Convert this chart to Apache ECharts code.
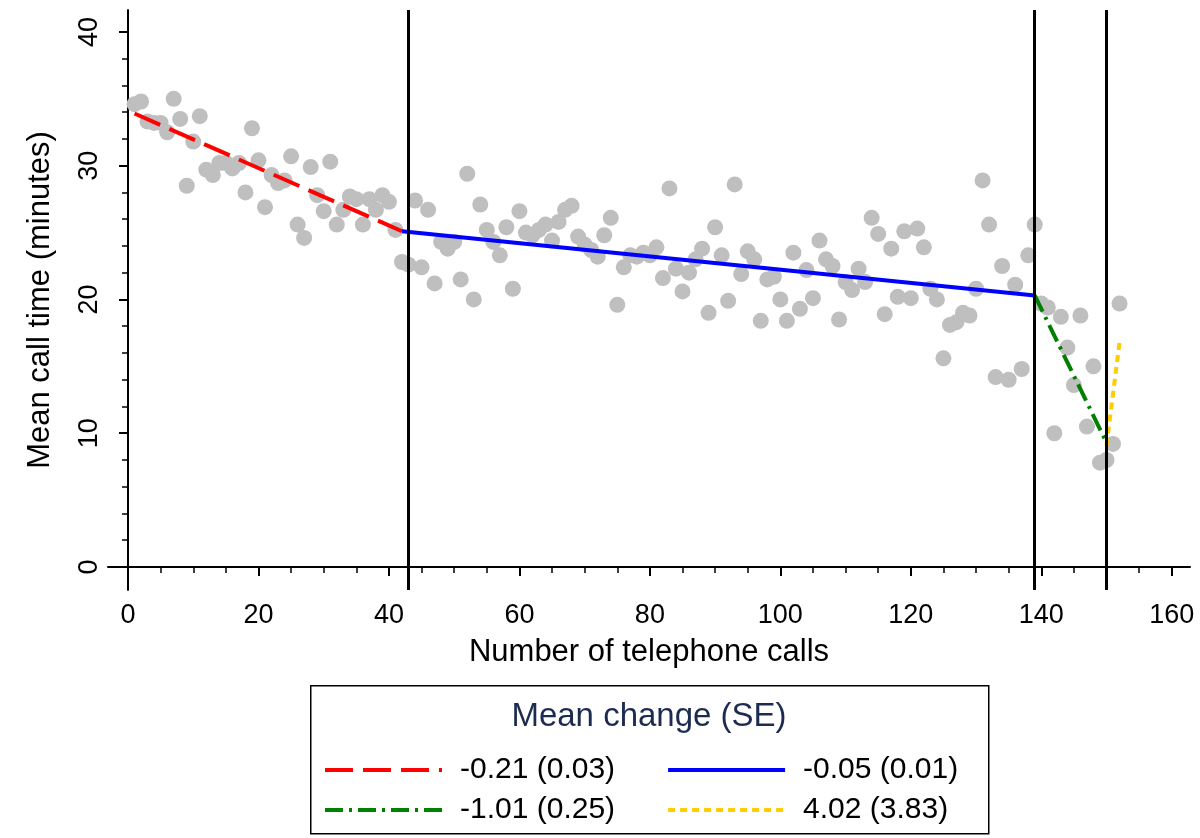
<!DOCTYPE html>
<html>
<head>
<meta charset="utf-8">
<script src="https://cdn.jsdelivr.net/npm/echarts@6/dist/echarts.min.js"></script>
<style>html,body{margin:0;padding:0;background:#fff}#c{width:1200px;height:838px}</style>
</head>
<body>
<div id="c"></div>
<script>
// Mean call time (minutes) for call number 1..152
var callTime = [
 34.6,34.8,33.3,33.2,33.2,32.5,35.0,33.5,28.5,31.8,
 33.7,29.7,29.3,30.2,30.2,29.8,30.2,28.0,32.8,30.4,
 26.9,29.3,28.7,28.9,30.7,25.6,24.6,29.9,27.8,26.6,
 30.3,25.6,26.7,27.7,27.5,25.6,27.5,26.7,27.8,27.3,
 25.2,22.8,22.6,27.4,22.4,26.7,21.2,24.3,23.8,24.3,
 21.5,29.4,20.0,27.1,25.2,24.3,23.3,25.4,20.8,26.6,
 25.0,24.8,25.2,25.6,24.4,25.8,26.7,27.0,24.7,24.1,
 23.7,23.2,24.8,26.1,19.6,22.4,23.3,23.2,23.5,23.3,
 23.9,21.6,28.3,22.3,20.6,22.0,23.0,23.8,19.0,25.4,
 23.3,19.9,28.6,21.9,23.6,23.0,18.4,21.5,21.7,20.0,
 18.4,23.5,19.3,22.2,20.1,24.4,23.0,22.5,18.5,21.3,
 20.7,22.3,21.3,26.1,24.9,18.9,23.8,20.2,25.1,20.1,
 25.3,23.9,20.8,20.0,15.6,18.1,18.3,19.0,18.8,20.8,
 28.9,25.6,14.2,22.5,14.0,21.1,14.8,23.3,25.6,19.7,
 19.4,10.0,18.7,16.4,13.6,18.8,10.5,15.0,7.8,8.0,
 9.2,19.7
];
// Fitted segments (call number, minutes)
var seg1X = [1, 42],    seg1Y = [33.9, 25.1];
var seg2X = [42, 139],  seg2Y = [25.1, 20.3];
var seg3X = [139, 150], seg3Y = [20.3, 9.3];
var seg4X = [150, 152], seg4Y = [9.1, 16.8];
var segLabels = ['-0.21 (0.03)', '-0.05 (0.01)', '-1.01 (0.25)', '4.02 (3.83)'];
var breakPoints = [43, 139, 150];
var xMajor = [0, 20, 40, 60, 80, 100, 120, 140, 160];
var xMinor = [0,5,10,15,20,25,30,35,40,45,50,55,60,65,70,75,80,85,90,95,100,105,110,115,120,125,130,135,140,145,150,155,160];
var yMajor = [0, 10, 20, 30, 40];
var yMinor = [0,2,4,6,8,10,12,14,16,18,20,22,24,26,28,30,32,34,36,38,40];
var xTitle = 'Number of telephone calls';
var yTitle = 'Mean call time (minutes)';
var legendTitle = 'Mean change (SE)';

var FONT = 'Liberation Sans';
function pairs(xs, ys) { return xs.map(function (x, i) { return [x, ys[i]]; }); }
var scatterData = callTime.map(function (v, i) { return [i + 1, v]; });

var X_MIN = -3.07, X_MAX = 162.8, Y_MIN = -1.72, Y_MAX = 41.64;
var axisLineStyle = { color: '#000', width: 2 };

function legendRow(items, top) {
  return {
    data: items, left: 323, top: top, padding: 0, orient: 'horizontal',
    itemWidth: 117, itemHeight: 14, itemGap: 51,
    itemStyle: { opacity: 0 },
    lineStyle: { width: 4 },
    textStyle: { fontSize: 30, color: '#000', width: 165, padding: [0, 0, 0, 13], fontFamily: FONT },
    selectedMode: false
  };
}

var chart = echarts.init(document.getElementById('c'), null, { renderer: 'canvas' });
chart.setOption({
  backgroundColor: '#fff',
  animation: false,
  textStyle: { fontFamily: FONT },
  grid: { left: 108, right: 10, top: 10, bottom: 248, containLabel: false },
  xAxis: [{
    type: 'value', min: X_MIN, max: X_MAX, position: 'bottom',
    name: xTitle, nameLocation: 'middle', nameGap: 47,
    nameTextStyle: { fontSize: 31, color: '#000', fontFamily: FONT },
    axisLine: { show: true, lineStyle: axisLineStyle },
    axisTick: { show: true, customValues: xMajor, length: 9, lineStyle: axisLineStyle },
    axisLabel: { show: true, customValues: xMajor, fontSize: 27, color: '#000', margin: 12, fontFamily: FONT },
    splitLine: { show: false }
  }, {
    type: 'value', min: X_MIN, max: X_MAX, position: 'bottom',
    axisLine: { show: false },
    axisTick: { show: true, customValues: xMinor, length: 6, lineStyle: { color: '#000', width: 1.5 } },
    axisLabel: { show: false },
    splitLine: { show: false }
  }],
  yAxis: [{
    type: 'value', min: Y_MIN, max: Y_MAX, position: 'left',
    name: yTitle, nameLocation: 'middle', nameGap: 52,
    nameTextStyle: { fontSize: 31, color: '#000', fontFamily: FONT },
    axisLine: { show: true, lineStyle: axisLineStyle },
    axisTick: { show: true, customValues: yMajor, length: 9, lineStyle: axisLineStyle },
    axisLabel: { show: true, customValues: yMajor, rotate: 90, fontSize: 27, color: '#000', margin: 5, fontFamily: FONT },
    splitLine: { show: false }
  }, {
    type: 'value', min: Y_MIN, max: Y_MAX, position: 'left',
    axisLine: { show: false },
    axisTick: { show: true, customValues: yMinor, length: 6, lineStyle: { color: '#000', width: 1.5 } },
    axisLabel: { show: false },
    splitLine: { show: false }
  }],
  legend: [legendRow([segLabels[0], segLabels[1]], 755), legendRow([segLabels[2], segLabels[3]], 795)],
  graphic: [{
    type: 'rect', left: 310, top: 685, z: 0,
    shape: { width: 678, height: 148 },
    style: { fill: '#fff', stroke: '#000', lineWidth: 1.5 }
  }, {
    type: 'text', x: 649, y: 717, z: 10,
    style: { text: legendTitle, fill: '#1c2b4f', font: '33px "' + FONT + '"', align: 'center', verticalAlign: 'middle' }
  }],
  series: [{
    type: 'scatter', name: 'obs', data: scatterData,
    symbol: 'circle', symbolSize: 16,
    itemStyle: { color: '#bfbfbf', opacity: 1 },
    silent: true, z: 2
  }, {
    type: 'line', name: segLabels[0], data: pairs(seg1X, seg1Y),
    symbol: 'none', lineStyle: { color: '#ff0000', width: 4, type: [28, 10], cap: 'butt' },
    itemStyle: { color: '#ff0000' }, z: 4
  }, {
    type: 'line', name: segLabels[1], data: pairs(seg2X, seg2Y),
    symbol: 'none', lineStyle: { color: '#0000ff', width: 4, type: 'solid' },
    itemStyle: { color: '#0000ff' }, z: 4,
    markLine: {
      silent: true, symbol: ['none', 'none'], label: { show: false },
      lineStyle: { color: '#000', width: 3, type: 'solid' },
      emphasis: { disabled: true },
      data: breakPoints.map(function (b) { return { xAxis: b, lineStyle: { color: '#000', width: 3, type: 'solid' } }; })
    }
  }, {
    type: 'line', name: segLabels[2], data: pairs(seg3X, seg3Y),
    symbol: 'none', lineStyle: { color: '#008000', width: 4, type: [18, 6, 3, 6], cap: 'butt' },
    itemStyle: { color: '#008000' }, z: 4
  }, {
    type: 'line', name: segLabels[3], data: pairs(seg4X, seg4Y),
    symbol: 'none', lineStyle: { color: '#ffcc00', width: 4, type: [7, 5], cap: 'butt' },
    itemStyle: { color: '#ffcc00' }, z: 4
  }]
});
</script>
</body>
</html>
